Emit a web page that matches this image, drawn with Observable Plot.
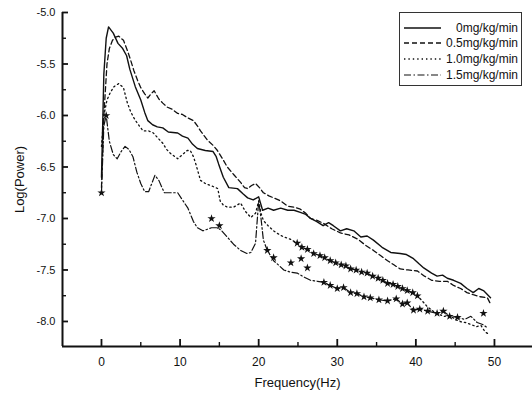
<!DOCTYPE html>
<html><head><meta charset="utf-8">
<script src="https://cdn.jsdelivr.net/npm/d3@7"></script>
<script src="https://cdn.jsdelivr.net/npm/@observablehq/plot@0.6"></script>
<style>
body{margin:0;background:#fff;font-family:"Liberation Sans",Arial,sans-serif;}
#wrap{position:relative;width:532px;height:396px;}
#legend{position:absolute;left:399px;top:12px;width:123px;height:74px;border:1px solid #333;box-sizing:border-box;background:#fff;}
.row{position:absolute;left:0;right:0;height:14px;}
.row svg{position:absolute;left:3px;top:2px;}
.row span{position:absolute;right:3px;top:0;font-size:12px;line-height:14px;color:#111;}
</style></head>
<body><div id="wrap"></div>
<script>
// ---- data ----
const seriesNames = ["0mg/kg/min", "0.5mg/kg/min", "1.0mg/kg/min", "1.5mg/kg/min"];
const xTicks = [0, 10, 20, 30, 40, 50];
const xMinorTicks = [5, 15, 25, 35, 45];
const yTicks = [-5.0, -5.5, -6.0, -6.5, -7.0, -7.5, -8.0];
const yMinorTicks = [-5.25, -5.75, -6.25, -6.75, -7.25, -7.75];
const xDomain = [-4.96, 54.84];
const yDomain = [-8.243, -5.0];

const s0 = [[0,-6.6],[0.3,-5.6],[0.6,-5.25],[0.9,-5.14],[1.5,-5.2],[2.1,-5.3],[2.7,-5.35],[3.2,-5.42],[3.6,-5.55],[4.3,-5.72],[5.0,-5.85],[5.5,-5.97],[5.9,-6.05],[6.5,-6.09],[7.1,-6.11],[7.8,-6.12],[8.5,-6.16],[9.7,-6.17],[10.3,-6.2],[11.0,-6.22],[11.6,-6.28],[12.2,-6.32],[13.2,-6.34],[14.2,-6.35],[14.6,-6.4],[14.9,-6.47],[15.5,-6.6],[16.2,-6.7],[17.3,-6.71],[18.0,-6.76],[18.6,-6.8],[19.3,-6.82],[20.0,-6.79],[20.5,-6.92],[21.2,-6.9],[21.9,-6.92],[22.8,-6.9],[23.7,-6.92],[24.5,-6.92],[25.3,-6.94],[26.0,-6.96],[26.6,-7.0],[27.4,-7.03],[28.2,-7.07],[28.9,-7.04],[29.5,-7.07],[30.4,-7.12],[31.2,-7.1],[32.1,-7.12],[33.0,-7.18],[33.8,-7.17],[34.6,-7.21],[35.7,-7.28],[36.8,-7.33],[38.0,-7.34],[38.8,-7.35],[39.7,-7.39],[40.4,-7.44],[41.0,-7.48],[42.0,-7.53],[42.7,-7.56],[43.4,-7.55],[44.0,-7.58],[44.8,-7.6],[45.7,-7.63],[46.5,-7.68],[47.3,-7.72],[48.0,-7.68],[48.6,-7.70],[49.5,-7.77]];
const s05 = [[0,-6.7],[0.3,-6.0],[0.7,-5.5],[1.0,-5.35],[1.4,-5.27],[1.8,-5.24],[2.2,-5.23],[2.8,-5.27],[3.3,-5.37],[3.7,-5.46],[4.1,-5.56],[4.6,-5.66],[5.0,-5.73],[5.5,-5.79],[5.9,-5.83],[6.3,-5.79],[6.7,-5.76],[7.3,-5.84],[7.8,-5.88],[8.4,-5.92],[9.0,-5.94],[9.7,-5.98],[10.3,-5.99],[10.9,-6.02],[11.7,-6.05],[12.2,-6.1],[12.6,-6.15],[13.5,-6.24],[14.2,-6.29],[14.75,-6.34],[15.4,-6.42],[16.0,-6.50],[16.9,-6.58],[17.7,-6.65],[18.2,-6.7],[18.6,-6.71],[19.1,-6.68],[19.6,-6.66],[20.1,-6.7],[20.6,-6.75],[21.3,-6.78],[21.9,-6.80],[22.8,-6.83],[23.7,-6.88],[24.5,-6.89],[25.3,-6.91],[26.0,-6.95],[26.6,-7.0],[27.5,-7.02],[28.3,-7.05],[29.3,-7.1],[30.4,-7.14],[31.5,-7.16],[32.6,-7.2],[33.6,-7.26],[34.6,-7.31],[35.5,-7.36],[36.4,-7.41],[37.2,-7.45],[38.0,-7.49],[39.0,-7.5],[40.2,-7.51],[41.1,-7.56],[42.0,-7.6],[43.0,-7.61],[44.0,-7.61],[44.8,-7.65],[45.7,-7.68],[46.5,-7.72],[47.3,-7.74],[48.2,-7.76],[49.1,-7.77],[49.5,-7.83]];
const s10 = [[0,-6.3],[0.3,-6.0],[0.7,-5.85],[1.1,-5.78],[1.6,-5.72],[2.2,-5.69],[2.8,-5.73],[3.3,-5.88],[3.7,-5.96],[4.1,-6.02],[4.6,-6.08],[5.3,-6.15],[6.0,-6.15],[6.6,-6.17],[7.2,-6.22],[7.8,-6.27],[8.3,-6.33],[8.8,-6.37],[9.7,-6.42],[10.3,-6.38],[10.9,-6.34],[11.3,-6.34],[11.7,-6.4],[12.0,-6.47],[12.3,-6.55],[12.6,-6.63],[13.2,-6.66],[13.9,-6.68],[14.8,-6.71],[15.1,-6.83],[15.5,-6.87],[16.0,-6.89],[16.8,-6.89],[17.7,-6.85],[18.3,-6.93],[19.0,-6.99],[19.6,-6.95],[20.0,-6.83],[20.3,-6.95],[20.6,-7.02],[21.2,-7.07],[21.9,-7.12],[22.5,-7.15],[23.2,-7.18],[24.0,-7.2],[24.9,-7.24],[25.5,-7.28],[26.2,-7.3],[27.0,-7.34],[27.8,-7.36],[28.4,-7.38],[29.1,-7.41],[29.8,-7.43],[30.5,-7.45],[31.1,-7.46],[31.7,-7.49],[32.4,-7.5],[33.1,-7.52],[33.8,-7.53],[34.5,-7.56],[35.2,-7.58],[35.8,-7.6],[36.4,-7.63],[37.1,-7.64],[37.7,-7.66],[38.3,-7.68],[38.9,-7.70],[39.6,-7.72],[40.2,-7.75],[40.8,-7.8],[41.5,-7.86],[42.2,-7.9],[42.9,-7.93],[43.6,-7.95],[44.3,-7.94],[45.0,-7.98],[45.6,-8.0],[46.3,-8.01],[47.0,-8.03],[47.7,-8.05],[48.3,-8.04],[48.8,-8.1],[49.2,-8.12]];
const s15 = [[0,-6.75],[0.3,-6.1],[0.6,-6.0],[1.0,-6.25],[1.5,-6.38],[2.0,-6.42],[2.5,-6.35],[3.0,-6.3],[3.5,-6.33],[4.0,-6.4],[4.5,-6.55],[5.0,-6.66],[5.5,-6.74],[6.0,-6.74],[6.3,-6.68],[6.8,-6.58],[7.3,-6.63],[7.7,-6.7],[8.0,-6.75],[9.0,-6.75],[9.7,-6.75],[10.3,-6.82],[11.0,-6.9],[11.7,-7.03],[12.2,-7.09],[12.9,-7.12],[14.0,-7.09],[14.8,-7.09],[15.3,-7.12],[16.0,-7.18],[16.8,-7.25],[17.7,-7.31],[18.5,-7.34],[19.0,-7.33],[19.6,-7.24],[20.0,-6.83],[20.3,-7.0],[20.6,-7.21],[21.1,-7.31],[21.9,-7.41],[22.5,-7.45],[23.2,-7.50],[24.0,-7.52],[24.9,-7.53],[25.8,-7.57],[26.6,-7.60],[27.5,-7.61],[28.3,-7.62],[29.1,-7.65],[30.0,-7.68],[30.8,-7.67],[31.7,-7.72],[32.5,-7.73],[33.4,-7.76],[34.2,-7.77],[35.3,-7.79],[36.4,-7.80],[37.5,-7.78],[38.3,-7.83],[38.9,-7.82],[39.7,-7.89],[40.5,-7.88],[41.5,-7.9],[42.7,-7.92],[43.5,-7.9],[44.3,-7.95],[45.3,-7.96],[46.2,-7.98],[47.0,-7.95],[47.8,-8.01],[48.5,-8.03],[49.1,-8.06]];

// frequency ranges marked with stars, and isolated star marks
const starRange10 = [24.5, 40.5];
const starRange15 = [28.0, 45.5];
const extraStars = [[0,-6.75],[0.6,-6.0],[14.0,-7.0],[15.0,-7.07],[21.1,-7.31],[21.9,-7.38],[24.1,-7.43],[25.4,-7.39],[26.2,-7.48],[48.6,-7.92]];

// ---- build ----
const dashes = ["none", "5,3", "1.4,3", "7,2.5,1.5,2.5"];
const widths = [1.4, 1.3, 1.3, 1.2];
const all = [s0, s05, s10, s15];
const toRows = (arr, i) => arr.map(([f, p]) => ({f, p, s: seriesNames[i]}));
const starPts = [
  ...s10.filter(d => d[0] >= starRange10[0] && d[0] <= starRange10[1]),
  ...s15.filter(d => d[0] >= starRange15[0] && d[0] <= starRange15[1]),
  ...extraStars
].map(([f, p]) => ({f, p}));

const W = 532, H = 396, mL = 62, mR = 0, mT = 12, mB = 50;

const chart = Plot.plot({
  width: W, height: H,
  marginLeft: mL, marginRight: mR, marginTop: mT, marginBottom: mB,
  x: {domain: xDomain},
  y: {domain: yDomain},
  style: {fontFamily: "'Liberation Sans', Arial, sans-serif", fontSize: "11px", color: "#111", background: "white"},
  marks: [
    ...all.map((arr, i) => Plot.line(toRows(arr, i), {x: "f", y: "p", stroke: "#111", strokeWidth: widths[i], strokeDasharray: dashes[i] === "none" ? null : dashes[i]})),
    Plot.dot(starPts, {x: "f", y: "p", symbol: "star", r: 2.6, fill: "#111", stroke: "none"}),
    // axis lines
    Plot.ruleX([xDomain[0]], {stroke: "#111", strokeWidth: 2}),
    Plot.ruleY([yDomain[0]], {stroke: "#111", strokeWidth: 2}),
    // inward ticks (negative tick size) and labels
    Plot.axisX(xTicks, {tickSize: -7, tickPadding: 18, strokeWidth: 1.8, stroke: "#111", fontSize: 12, tickFormat: d => String(d), label: "Frequency(Hz)", labelAnchor: "center", labelOffset: 40, labelArrow: "none"}),
    Plot.axisX(xMinorTicks, {tickSize: -4, strokeWidth: 1.4, stroke: "#111", tickFormat: () => "", label: null}),
    Plot.axisY(yTicks, {tickSize: -6, tickPadding: 13, strokeWidth: 1.8, stroke: "#111", fontSize: 11, tickFormat: d => d.toFixed(1), label: "Log(Power)", labelAnchor: "center", labelOffset: 48, labelArrow: "none"}),
    Plot.axisY(yMinorTicks, {tickSize: -4, strokeWidth: 1.4, stroke: "#111", tickFormat: () => "", label: null})
  ]
});
chart.querySelectorAll("[aria-label='x-axis label'] text, [aria-label='y-axis label'] text").forEach(t => t.setAttribute("font-size", "13"));
const wrap = document.getElementById("wrap");
wrap.appendChild(chart);

// legend
const leg = document.createElement("div");
leg.id = "legend";
const rowTops = [8, 23, 39, 55];
seriesNames.forEach((name, i) => {
  const row = document.createElement("div");
  row.className = "row";
  row.style.top = rowTops[i] + "px";
  const sw = d3.create("svg").attr("width", 40).attr("height", 10);
  sw.append("line").attr("x1", 1).attr("x2", 38).attr("y1", 5).attr("y2", 5)
    .attr("stroke", "#111").attr("stroke-width", widths[i])
    .attr("stroke-dasharray", dashes[i] === "none" ? null : dashes[i]);
  row.appendChild(sw.node());
  const t = document.createElement("span");
  t.textContent = name;
  row.appendChild(t);
  leg.appendChild(row);
});
wrap.appendChild(leg);
</script>
</body></html>
